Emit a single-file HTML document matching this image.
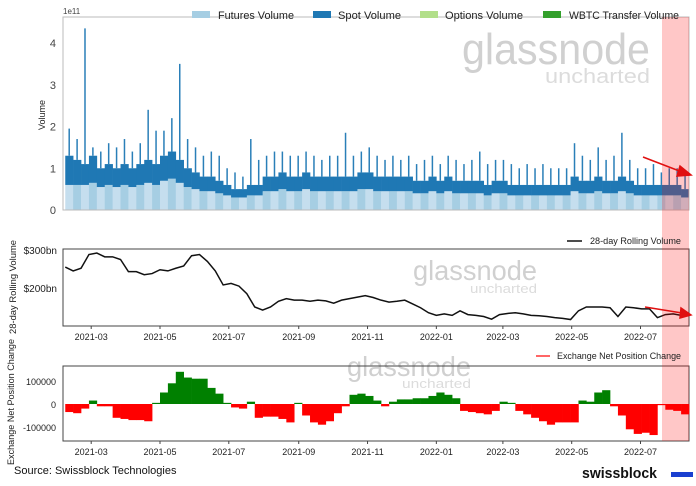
<!DOCTYPE html>
<html><head><meta charset="utf-8"><style>
body{margin:0;background:#fff;}
svg{display:block;font-family:"Liberation Sans","DejaVu Sans",sans-serif;}
</style></head><body>
<svg id="c" width="696" height="486" viewBox="0 0 696 486">
<g id="wm">
<text x="462" y="64" font-size="44" fill="#d0d0d0" textLength="188" lengthAdjust="spacingAndGlyphs">glassnode</text>
<text x="545" y="83" font-size="20" fill="#dcdcdc" textLength="105" lengthAdjust="spacingAndGlyphs">uncharted</text>
<text x="413" y="280" font-size="28" fill="#d0d0d0" textLength="124" lengthAdjust="spacingAndGlyphs">glassnode</text>
<text x="470" y="293" font-size="13" fill="#dcdcdc" textLength="67" lengthAdjust="spacingAndGlyphs">uncharted</text>
<text x="347" y="376" font-size="28" fill="#d0d0d0" textLength="124" lengthAdjust="spacingAndGlyphs">glassnode</text>
<text x="402" y="388" font-size="13" fill="#dcdcdc" textLength="69" lengthAdjust="spacingAndGlyphs">uncharted</text>
</g>
<g id="gtop"></g><g id="gmid"></g><g id="gbot"></g>
<rect x="662" y="17" width="27" height="424" fill="#ff0000" fill-opacity="0.22"/>
<g font-size="11" fill="#222">
<rect x="192" y="11" width="18" height="7" fill="#a6cee3"/>
<text x="218" y="19" textLength="76" lengthAdjust="spacingAndGlyphs">Futures Volume</text>
<rect x="313" y="11" width="18" height="7" fill="#1f78b4"/>
<text x="338" y="19" textLength="63" lengthAdjust="spacingAndGlyphs">Spot Volume</text>
<rect x="420" y="11" width="18" height="7" fill="#b2df8a"/>
<text x="445" y="19" textLength="78" lengthAdjust="spacingAndGlyphs">Options Volume</text>
<rect x="543" y="11" width="18" height="7" fill="#33a02c"/>
<text x="569" y="19" textLength="110" lengthAdjust="spacingAndGlyphs">WBTC Transfer Volume</text>
</g>
<g font-size="9" fill="#222">
<line x1="567" y1="241" x2="582" y2="241" stroke="#111" stroke-width="1.5"/>
<text x="590" y="244" textLength="91" lengthAdjust="spacingAndGlyphs">28-day Rolling Volume</text>
</g>
<g font-size="9" fill="#222">
<line x1="536" y1="356" x2="550" y2="356" stroke="#f33" stroke-width="1.5"/>
<text x="557" y="359" textLength="124" lengthAdjust="spacingAndGlyphs">Exchange Net Position Change</text>
</g>
<text x="63" y="14" font-size="8" fill="#444">1e11</text>
<text transform="translate(45,115) rotate(-90)" text-anchor="middle" font-size="9" fill="#222">Volume</text>
<text transform="translate(16,287) rotate(-90)" text-anchor="middle" font-size="9" fill="#222" textLength="94" lengthAdjust="spacingAndGlyphs">28-day Rolling Volume</text>
<text transform="translate(14,402) rotate(-90)" text-anchor="middle" font-size="9" fill="#222" textLength="126" lengthAdjust="spacingAndGlyphs">Exchange Net Position Change</text>
<g stroke="#e01010" stroke-width="1.5" fill="#e01010">
<line x1="643" y1="157" x2="682" y2="172"/><polygon points="691,175 680,166 677,176"/>
<line x1="645" y1="307" x2="682" y2="313"/><polygon points="691,315 681,308 680,318"/>
</g>
<text x="14" y="474" font-size="11" fill="#111">Source: Swissblock Technologies</text>
<text x="582" y="478" font-size="15" font-weight="bold" fill="#111" textLength="75" lengthAdjust="spacingAndGlyphs">swissblock</text>
<rect x="671" y="472" width="22" height="5" fill="#1a3fd0"/>
</svg>
<script>
const weekStart = "2021-02-06";
const totalVol = [1.3,1.2,1.1,1.3,1.0,1.1,1.0,1.1,1.0,1.1,1.2,1.1,1.3,1.4,1.2,1.0,0.9,0.8,0.8,0.7,0.6,0.5,0.5,0.6,0.6,0.8,0.8,0.9,0.8,0.8,0.9,0.8,0.8,0.8,0.8,0.8,0.8,0.9,0.9,0.8,0.8,0.8,0.8,0.8,0.7,0.7,0.8,0.7,0.8,0.7,0.7,0.7,0.7,0.6,0.7,0.7,0.6,0.6,0.6,0.6,0.6,0.6,0.6,0.6,0.8,0.7,0.7,0.8,0.7,0.7,0.8,0.7,0.6,0.6,0.6,0.6,0.6,0.6,0.5];
const futuresVol = [0.6,0.6,0.6,0.65,0.55,0.6,0.55,0.6,0.55,0.6,0.65,0.6,0.7,0.75,0.65,0.55,0.5,0.45,0.45,0.4,0.35,0.3,0.3,0.35,0.35,0.45,0.45,0.5,0.45,0.45,0.5,0.45,0.45,0.45,0.45,0.45,0.45,0.5,0.5,0.45,0.45,0.45,0.45,0.45,0.4,0.4,0.45,0.4,0.45,0.4,0.4,0.4,0.4,0.35,0.4,0.4,0.35,0.35,0.35,0.35,0.35,0.35,0.35,0.35,0.45,0.4,0.4,0.45,0.4,0.4,0.45,0.4,0.35,0.35,0.35,0.35,0.35,0.35,0.3];
const peakVol = [1.95,1.7,4.35,1.5,1.4,1.6,1.5,1.7,1.4,1.6,2.4,1.9,1.9,2.2,3.5,1.7,1.5,1.3,1.4,1.3,1.0,0.9,0.8,1.7,1.2,1.3,1.4,1.4,1.3,1.3,1.4,1.3,1.2,1.3,1.3,1.85,1.3,1.4,1.5,1.3,1.2,1.3,1.2,1.3,1.1,1.2,1.3,1.1,1.3,1.2,1.1,1.2,1.4,1.1,1.2,1.2,1.1,1.0,1.1,1.0,1.1,1.0,1.0,1.0,1.6,1.3,1.2,1.5,1.2,1.3,1.85,1.2,1.0,1.0,1.1,0.9,1.0,1.0,0.9];
const rollingVol = [255,245,252,288,292,282,282,275,243,243,235,238,248,245,252,258,285,288,270,245,208,212,205,185,150,142,150,165,172,168,168,165,168,166,160,168,172,176,180,175,168,163,165,168,158,148,135,128,132,128,140,130,128,125,118,130,133,135,132,128,127,125,122,120,117,140,150,150,150,148,125,150,148,145,145,122,130,132,128];
const netPos = [-35,-40,-20,15,-10,-10,-60,-65,-70,-70,-75,5,50,90,140,115,110,110,70,45,5,-15,-20,10,-60,-55,-55,-65,-80,5,-50,-80,-90,-75,-40,-10,40,45,35,15,-10,10,20,20,25,25,35,50,40,25,-30,-35,-40,-45,-30,10,5,-30,-45,-60,-75,-90,-80,-80,-80,15,10,50,60,-10,-50,-110,-130,-125,-135,-5,-25,-30,-45];
const volTicks = [0,1,2,3,4];
const rollTicks = [200,300];
const rollTickLabels = ["$200bn","$300bn"];
const netTicks = [-100000,0,100000];
const xTickLabels = ["2021-03","2021-05","2021-07","2021-09","2021-11","2022-01","2022-03","2022-05","2022-07"];

const NS="http://www.w3.org/2000/svg";
const X0=63,X1=689;
const d0=new Date("2021-02-04").getTime(), d1=new Date("2022-08-13").getTime();
function xDate(ms){return X0+(ms-d0)/(d1-d0)*(X1-X0);}
function xWeek(i){return xDate(new Date(weekStart).getTime()+i*7*864e5);}
const yTop=v=>210-v*41.75;
const yMid=v=>326-(v-100)*0.38;
const yBot=v=>404-v*0.23;
function mk(parent,tag,attrs){const e=document.createElementNS(NS,tag);for(const k in attrs)e.setAttribute(k,attrs[k]);parent.appendChild(e);return e;}
const gTop=document.getElementById('gtop'),gMid=document.getElementById('gmid'),gBot=document.getElementById('gbot');
const wk=xWeek(1)-xWeek(0);

totalVol.forEach((t,i)=>{
  const x=xWeek(i);
  let r=mk(gTop,'rect',{x:x,y:yTop(futuresVol[i]),width:wk+0.3,height:210-yTop(futuresVol[i]),fill:i%2?'#a6cee3':'#c5deee'});
  
  
  let s=mk(gTop,'rect',{x:x,y:yTop(t),width:wk+0.3,height:yTop(futuresVol[i])-yTop(t),fill:'#1f78b4'});
  
  
  let p=mk(gTop,'line',{x1:x+wk/2,x2:x+wk/2,y1:yTop(t),y2:yTop(peakVol[i]),stroke:'#2a7fb8','stroke-width':1.5});
  
  
});
[[17,210],[249,326],[366,441]].forEach(([a,b],k)=>{
  let f=mk(k==0?gTop:k==1?gMid:gBot,'rect',{x:X0,y:a,width:X1-X0,height:b-a,fill:'none',stroke:k==0?'#bbb':'#444','stroke-width':1});
  
  
});
volTicks.forEach(v=>{
  let t=mk(gTop,'text',{x:56,y:yTop(v)+4,'text-anchor':'end','font-size':11,fill:'#444'});t.textContent=v;
  
  
});
let pts=rollingVol.map((v,i)=>xWeek(i)+','+yMid(v)).join(' ');
let pl=mk(gMid,'polyline',{points:pts,fill:'none',stroke:'#111','stroke-width':1.5});


rollTicks.forEach((v,i)=>{
  let t=mk(gMid,'text',{x:57,y:yMid(v)+4,'text-anchor':'end','font-size':10,fill:'#222'});t.textContent=rollTickLabels[i];
  
  
});
netPos.forEach((v,i)=>{
  const y=yBot(Math.max(v,0)*1000/1000),h=Math.abs(v)*0.23;
  let r=mk(gBot,'rect',{x:xWeek(i),y:y,width:wk+0.3,height:h,fill:v>=0?'#008000':'#ff0000'});
  
  
});
netTicks.forEach(v=>{
  let t=mk(gBot,'text',{x:56,y:yBot(v/1000)+4,'text-anchor':'end','font-size':9,fill:'#222'});t.textContent=v;
  
  
});
xTickLabels.forEach(l=>{
  const x=xDate(new Date(l+"-01").getTime());
  [[326,340,gMid],[441,455,gBot]].forEach(([ya,yt,g])=>{
    mk(g,'line',{x1:x,x2:x,y1:ya,y2:ya+3,stroke:'#444'});
    let t=mk(g,'text',{x:x,y:yt,'text-anchor':'middle','font-size':9,fill:'#222'});t.textContent=l;
    
    
  });
});
</script>
</body></html>
